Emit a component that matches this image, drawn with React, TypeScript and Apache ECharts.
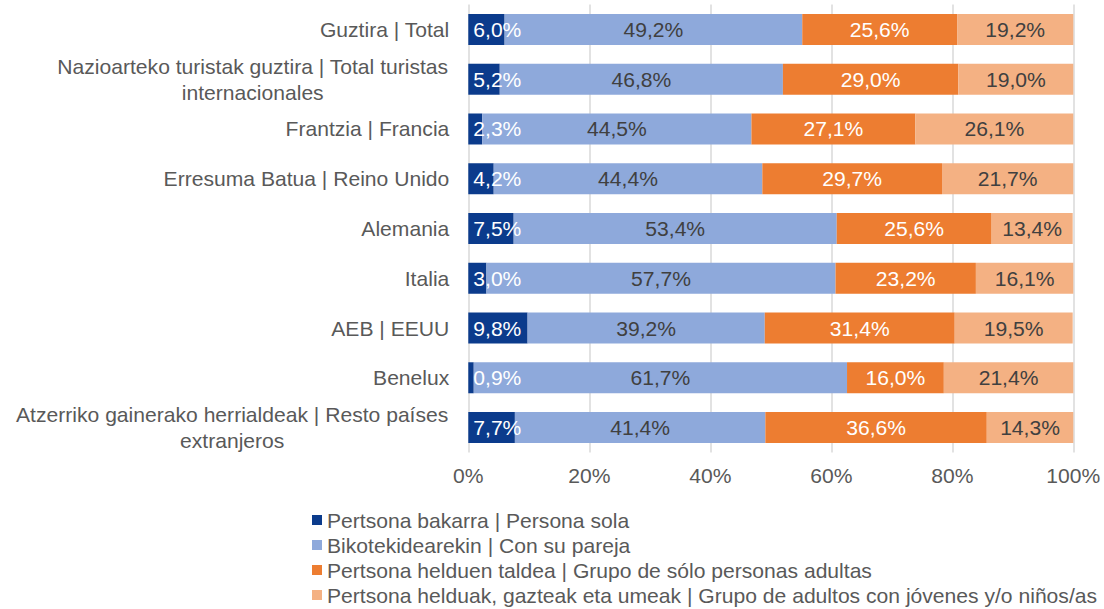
import React, { useEffect, useRef } from "react";
import * as echarts from "echarts";

const categories = [
  "Guztira | Total",
  "Nazioarteko turistak guztira | Total turistas\ninternacionales",
  "Frantzia | Francia",
  "Erresuma Batua | Reino Unido",
  "Alemania",
  "Italia",
  "AEB | EEUU",
  "Benelux",
  "Atzerriko gainerako herrialdeak | Resto países\nextranjeros",
];

const seriesNames = [
  "Pertsona bakarra | Persona sola",
  "Bikotekidearekin | Con su pareja",
  "Pertsona helduen taldea | Grupo de sólo personas adultas",
  "Pertsona helduak, gazteak eta umeak | Grupo de adultos con jóvenes y/o niños/as",
];

const personaSola = [6.0, 5.2, 2.3, 4.2, 7.5, 3.0, 9.8, 0.9, 7.7];
const conPareja = [49.2, 46.8, 44.5, 44.4, 53.4, 57.7, 39.2, 61.7, 41.4];
const soloAdultos = [25.6, 29.0, 27.1, 29.7, 25.6, 23.2, 31.4, 16.0, 36.6];
const conJovenes = [19.2, 19.0, 26.1, 21.7, 13.4, 16.1, 19.5, 21.4, 14.3];

const xTicks = [0, 20, 40, 60, 80, 100];

const colors = ["#0B3B8C", "#8EA9DB", "#ED7D31", "#F4B183"];
const labelColors = ["#FFFFFF", "#404040", "#FFFFFF", "#404040"];

const FONT = '"Liberation Sans", Arial, sans-serif';
const FS = 21.1;
const GRAY = "#595959";

function measure(text: string): number {
  const c = document.createElement("canvas");
  const ctx = c.getContext("2d");
  if (!ctx) return text.length * 10;
  ctx.font = `${FS}px ${FONT}`;
  return ctx.measureText(text).width;
}

export default function App() {
  const ref = useRef<HTMLDivElement>(null);

  useEffect(() => {
    if (!ref.current) return;
    const chart = echarts.init(ref.current, undefined, { renderer: "svg" });

    const rich: Record<string, any> = {};
    categories.forEach((c, i) => {
      if (c.includes("\n")) {
        const w = Math.max(...c.split("\n").map(measure)) + 2;
        rich["w" + i] = {
          width: w,
          align: "center",
          fontSize: FS,
          fontFamily: FONT,
          color: GRAY,
          lineHeight: 26,
        };
      }
    });

    const dataSets = [personaSola, conPareja, soloAdultos, conJovenes];

    chart.setOption({
      animation: false,
      grid: { left: 468.3, right: 30.7, top: 4.6, bottom: 156.6, containLabel: false },
      legend: {
        orient: "vertical",
        left: 312,
        top: 507.5,
        padding: 0,
        itemGap: 0,
        itemWidth: 10,
        itemHeight: 10,
        icon: "rect",
        textStyle: { fontSize: FS, fontFamily: FONT, color: GRAY, lineHeight: 25 },
        data: seriesNames,
      },
      xAxis: {
        type: "value",
        min: xTicks[0],
        max: xTicks[xTicks.length - 1],
        interval: xTicks[1] - xTicks[0],
        axisLine: { show: false },
        axisTick: { show: false },
        axisLabel: {
          formatter: "{value}%",
          fontSize: FS,
          fontFamily: FONT,
          color: GRAY,
          margin: 13,
        },
        splitLine: { show: true, lineStyle: { color: "#D9D9D9", width: 1.5 } },
      },
      yAxis: {
        type: "category",
        inverse: true,
        data: categories,
        axisLine: { show: false },
        axisTick: { show: false },
        axisLabel: {
          fontSize: FS,
          fontFamily: FONT,
          color: GRAY,
          margin: 19,
          lineHeight: 26,
          formatter: (v: string, idx: number) => {
            if (v.includes("\n")) {
              return v
                .split("\n")
                .map((l) => `{w${idx}|${l}}`)
                .join("\n");
            }
            return v;
          },
          rich,
        },
      },
      series: seriesNames.map((name, si) => ({
        name,
        type: "bar",
        stack: "total",
        barWidth: 31,
        data: dataSets[si],
        itemStyle: { color: colors[si] },
        label: {
          show: true,
          position: si === 0 ? "insideLeft" : "inside",
          distance: 5,
          fontSize: FS,
          fontFamily: FONT,
          color: labelColors[si],
          formatter: (p: any) => p.value.toFixed(1).replace(".", ",") + "%",
        },
      })),
    });

    return () => chart.dispose();
  }, []);

  return (
    <div
      ref={ref}
      style={{ position: "fixed", left: 0, top: 0, width: 1104, height: 609, background: "#fff" }}
    />
  );
}
